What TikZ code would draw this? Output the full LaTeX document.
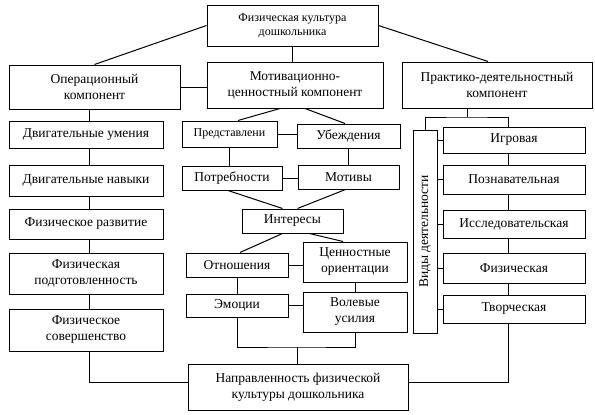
\documentclass[tikz,border=0pt]{standalone}
\usepackage{fontspec}
\setmainfont{Liberation Serif}
\begin{document}
\begin{tikzpicture}[x=1pt,y=-1pt,line width=1pt,
  box/.style={draw,inner sep=0pt,align=center,font=\fontsize{13.5}{16}\selectfont},
  sbox/.style={box,font=\fontsize{12}{14.5}\selectfont}]
\useasboundingbox (0,0) rectangle (595,415);
% top level
\node[sbox,minimum width=171,minimum height=41] (top) at (292.5,25.5) {Физическая культура\\дошкольника};
\node[box,minimum width=171,minimum height=44] (oper) at (94.5,87) {Операционный\\компонент};
\node[box,minimum width=176,minimum height=46] (motiv) at (295,85) {Мотивационно-\\ценностный компонент};
\node[box,minimum width=190,minimum height=46] (prakt) at (497,85) {Практико-деятельностный\\компонент};
% left column
\node[box,minimum width=154,minimum height=27] (du) at (86,134.5) {Двигательные умения};
\node[box,minimum width=154,minimum height=31] (dn) at (86,180.5) {Двигательные навыки};
\node[box,minimum width=154,minimum height=30] (fr) at (86,224) {Физическое развитие};
\node[box,minimum width=154,minimum height=41] (fp) at (86,273.5) {Физическая\\подготовленность};
\node[box,minimum width=154,minimum height=42] (fs) at (86,330) {Физическое\\совершенство};
% middle
\node[sbox,minimum width=95,minimum height=26] (pred) at (229.5,134) {Представлени};
\node[box,minimum width=103,minimum height=24] (ube) at (348.5,136) {Убеждения};
\node[box,minimum width=100,minimum height=24] (potr) at (232,178) {Потребности};
\node[box,minimum width=101,minimum height=24] (mot) at (348.5,177) {Мотивы};
\node[box,minimum width=101,minimum height=24] (int) at (292.5,221) {Интересы};
\node[box,minimum width=102,minimum height=24] (otn) at (237,265) {Отношения};
\node[box,minimum width=104,minimum height=40] (cen) at (355,262) {Ценностные\\ориентации};
\node[box,minimum width=102,minimum height=23] (emo) at (237,305.5) {Эмоции};
\node[box,minimum width=104,minimum height=40] (vol) at (355,312) {Волевые\\усилия};
\node[box,minimum width=220,minimum height=46] (nap) at (298,387) {Направленность физической\\культуры дошкольника};
% right
\node[box,minimum width=203,minimum height=24,rotate=90] (vidy) at (425,231.5) {Виды деятельности};
\node[box,minimum width=142,minimum height=26] (igr) at (514,140) {Игровая};
\node[box,minimum width=142,minimum height=29] (poz) at (514,179.5) {Познавательная};
\node[box,minimum width=142,minimum height=28] (iss) at (514,224) {Исследовательская};
\node[box,minimum width=142,minimum height=30] (fiz) at (514,268) {Физическая};
\node[box,minimum width=142,minimum height=28] (tvo) at (514,309) {Творческая};
% helper coordinates
\coordinate (lx) at (89,0);
\coordinate (rx) at (508,0);
\coordinate (rj) at (467,117);
\coordinate (jm) at (297,347);
% connectors top
\draw (top.west) -- (oper.north);
\draw (top.east) -- ([xshift=-9pt]prakt.north);
\draw (top.south) -- (top.south |- motiv.north);
\draw (oper.east) -- (oper.east -| motiv.west);
% left column
\draw (oper.south -| lx) -- (du.north -| lx);
\draw (du.south -| lx) -- (dn.north -| lx);
\draw (dn.south -| lx) -- (fr.north -| lx);
\draw (fr.south -| lx) -- (fp.north -| lx);
\draw (fp.south -| lx) -- (fs.north -| lx);
\draw (fs.south -| lx) |- ([yshift=5pt]nap.west);
% middle
\draw ([xshift=-15pt]motiv.south) -- ([xshift=8.5pt]pred.north);
\draw ([xshift=10pt]motiv.south) -- ([xshift=-3.5pt]ube.north);
\draw (pred.east) -- (pred.east -| ube.west);
\draw (pred.south) -- (pred.south |- potr.north);
\draw (ube.south) -- (ube.south |- mot.north);
\draw (potr.east) -- (potr.east -| mot.west);
\draw ([xshift=-4pt]potr.south) -- ([xshift=-10pt]int.north);
\draw ([xshift=-3pt]mot.south) -- ([xshift=5pt]int.north);
\draw ([xshift=-10pt]int.south) -- ([xshift=3pt]otn.north);
\draw ([xshift=17pt]int.south) -- ([xshift=-12pt]cen.north);
\draw (otn.east) -- (otn.east -| cen.west);
\draw (otn.south) -- (emo.north);
\draw (cen.south) -- (vol.north);
\draw (emo.east) -- (emo.east -| vol.west);
\draw (emo.south) |- (jm) -| (vol.south);
\draw (jm) -- (jm |- nap.north);
% right
\draw (rj |- prakt.south) -- (rj);
\draw (vidy.east) |- (rj) -| (igr.north -| rx);
\draw (vidy.south |- igr.west) -- (igr.west);
\draw (vidy.south |- poz.west) -- (poz.west);
\draw (vidy.south |- iss.west) -- (iss.west);
\draw (vidy.south |- fiz.west) -- (fiz.west);
\draw (vidy.south |- tvo.west) -- (tvo.west);
\draw (igr.south -| rx) -- (poz.north -| rx);
\draw (poz.south -| rx) -- (iss.north -| rx);
\draw (iss.south -| rx) -- (fiz.north -| rx);
\draw (fiz.south -| rx) -- (tvo.north -| rx);
\draw ([yshift=5pt]nap.east) -| (tvo.south -| rx);
\end{tikzpicture}
\end{document}
